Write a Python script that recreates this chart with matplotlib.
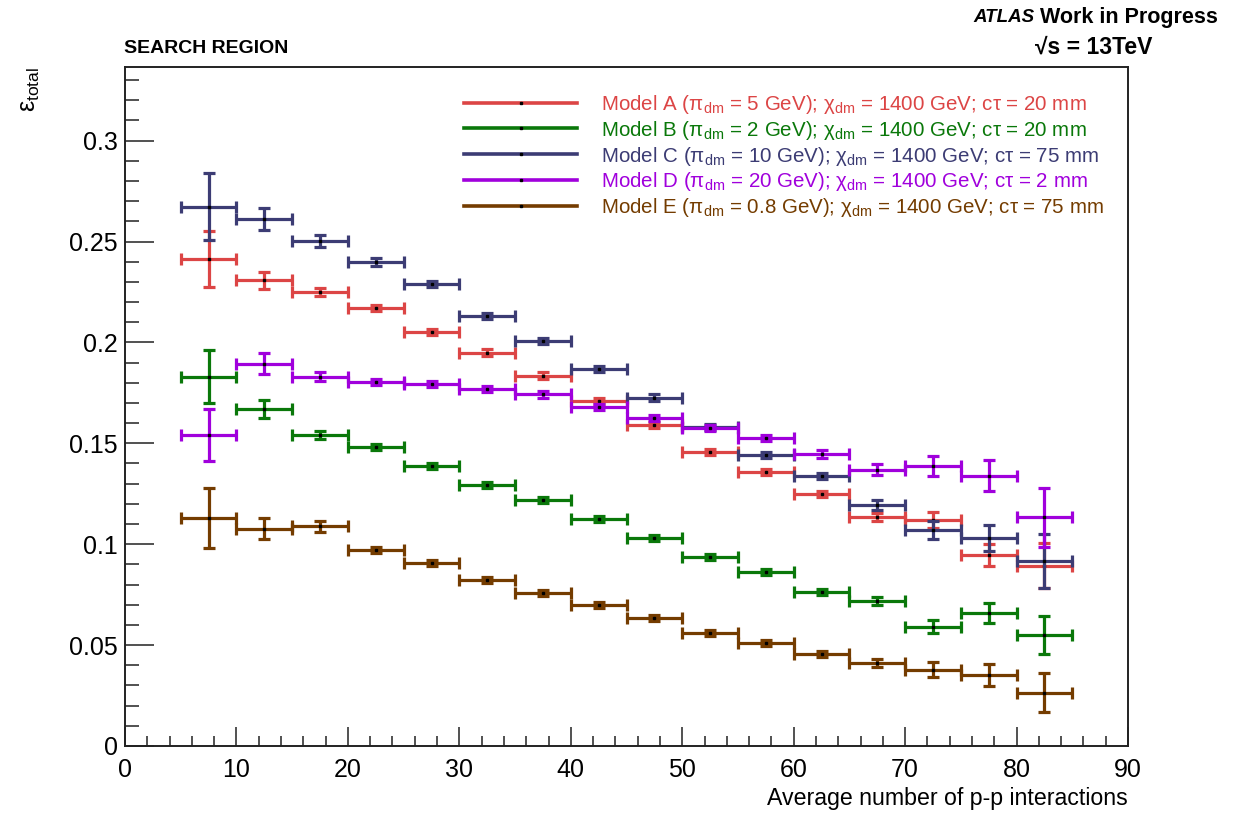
import matplotlib.pyplot as plt
from matplotlib.lines import Line2D
from matplotlib.ticker import MultipleLocator

plt.rcParams['font.family'] = ['Liberation Sans', 'DejaVu Sans']
plt.rcParams['mathtext.fontset'] = 'custom'
plt.rcParams['mathtext.rm'] = 'Liberation Sans'
plt.rcParams['mathtext.it'] = 'Liberation Sans:italic'
plt.rcParams['mathtext.bf'] = 'Liberation Sans:bold'

# bins of average pile-up (width 5)
mu = [7.5, 12.5, 17.5, 22.5, 27.5, 32.5, 37.5, 42.5,
      47.5, 52.5, 57.5, 62.5, 67.5, 72.5, 77.5, 82.5]
half_width = 2.5

eff_a = [0.2413, 0.2309, 0.2250, 0.2170, 0.2050, 0.1950, 0.1836, 0.1712,
         0.1590, 0.1459, 0.1357, 0.1251, 0.1137, 0.1121, 0.0947, 0.0893]
err_a = [0.0140, 0.0042, 0.0020, 0.0015, 0.0015, 0.0015, 0.0015, 0.0015,
         0.0015, 0.0015, 0.0015, 0.0015, 0.0020, 0.0040, 0.0055, 0.0112]

eff_b = [0.1830, 0.1670, 0.1542, 0.1481, 0.1388, 0.1293, 0.1220, 0.1126,
         0.1031, 0.0937, 0.0863, 0.0763, 0.0717, 0.0592, 0.0661, 0.0552]
err_b = [0.0130, 0.0045, 0.0020, 0.0015, 0.0015, 0.0015, 0.0015, 0.0015,
         0.0015, 0.0015, 0.0015, 0.0015, 0.0020, 0.0033, 0.0050, 0.0094]

eff_c = [0.2673, 0.2612, 0.2501, 0.2400, 0.2290, 0.2131, 0.2005, 0.1870,
         0.1727, 0.1583, 0.1440, 0.1340, 0.1192, 0.1071, 0.1030, 0.0917]
err_c = [0.0165, 0.0055, 0.0030, 0.0020, 0.0015, 0.0015, 0.0015, 0.0015,
         0.0015, 0.0015, 0.0015, 0.0015, 0.0025, 0.0044, 0.0063, 0.0135]

eff_d = [0.1542, 0.1894, 0.1831, 0.1803, 0.1793, 0.1769, 0.1742, 0.1680,
         0.1626, 0.1575, 0.1527, 0.1448, 0.1370, 0.1388, 0.1340, 0.1134]
err_d = [0.0128, 0.0053, 0.0020, 0.0015, 0.0015, 0.0015, 0.0015, 0.0015,
         0.0015, 0.0015, 0.0015, 0.0020, 0.0027, 0.0050, 0.0076, 0.0146]

eff_e = [0.1129, 0.1076, 0.1089, 0.0972, 0.0907, 0.0822, 0.0757, 0.0699,
         0.0636, 0.0559, 0.0511, 0.0455, 0.0412, 0.0377, 0.0352, 0.0264]
err_e = [0.0150, 0.0052, 0.0027, 0.0015, 0.0015, 0.0015, 0.0015, 0.0015,
         0.0015, 0.0015, 0.0015, 0.0015, 0.0020, 0.0037, 0.0054, 0.0097]

labels = [
    r'Model A ($\mathrm{\pi}_{\rm dm}$ = 5 GeV); $\mathrm{\chi}_{\rm dm}$ = 1400 GeV; c$\mathrm{\tau}$ = 20 mm',
    r'Model B ($\mathrm{\pi}_{\rm dm}$ = 2 GeV); $\mathrm{\chi}_{\rm dm}$ = 1400 GeV; c$\mathrm{\tau}$ = 20 mm',
    r'Model C ($\mathrm{\pi}_{\rm dm}$ = 10 GeV); $\mathrm{\chi}_{\rm dm}$ = 1400 GeV; c$\mathrm{\tau}$ = 75 mm',
    r'Model D ($\mathrm{\pi}_{\rm dm}$ = 20 GeV); $\mathrm{\chi}_{\rm dm}$ = 1400 GeV; c$\mathrm{\tau}$ = 2 mm',
    r'Model E ($\mathrm{\pi}_{\rm dm}$ = 0.8 GeV); $\mathrm{\chi}_{\rm dm}$ = 1400 GeV; c$\mathrm{\tau}$ = 75 mm',
]
colors = ['#dc4545', '#0a780a', '#3c3c74', '#a000dc', '#743c00']
effs = [eff_a, eff_b, eff_c, eff_d, eff_e]
errs = [err_a, err_b, err_c, err_d, err_e]

fig = plt.figure(figsize=(12.44, 8.15), dpi=100)
ax = fig.add_axes([0.1005, 0.0847, 0.8063, 0.8331])

handles = []
for eff, err, col in zip(effs, errs, colors):
    ax.errorbar(mu, eff, xerr=half_width, yerr=err, fmt='none', ecolor=col,
                elinewidth=2.3, capsize=4, capthick=2.3)
    ax.plot(mu, eff, linestyle='none', marker='s', markersize=1.5,
            color='black')
    handles.append(Line2D([], [], color=col, lw=2.6, marker='s', markersize=1.5,
                          mfc='black', mec='black'))

ax.set_xlim(0, 90)
ax.set_ylim(0, 0.3365)
ax.xaxis.set_major_locator(MultipleLocator(10))
ax.xaxis.set_minor_locator(MultipleLocator(2))
ax.yaxis.set_major_locator(MultipleLocator(0.05))
ax.yaxis.set_minor_locator(MultipleLocator(0.01))
ax.set_yticks([0, 0.05, 0.1, 0.15, 0.2, 0.25, 0.3])
ax.set_yticklabels(['0', '0.05', '0.1', '0.15', '0.2', '0.25', '0.3'])
ax.tick_params(axis='both', which='both', direction='in', top=False, right=False,
               labelsize=18, width=1.1, color='#222222')
ax.tick_params(axis='y', which='major', length=21, pad=5)
ax.tick_params(axis='y', which='minor', length=10)
ax.tick_params(axis='x', which='major', length=14, pad=9)
ax.tick_params(axis='x', which='minor', length=7)
for sp in ax.spines.values():
    sp.set_linewidth(1.4)
    sp.set_color('#222222')

ax.set_xlabel('Average number of p-p interactions', fontsize=16.7, loc='right',
              labelpad=3)

leg = ax.legend(handles, labels, loc='upper left', bbox_to_anchor=(0.338, 0.962),
                frameon=False, fontsize=14.8, handlelength=5.5, handletextpad=1.15,
                labelspacing=0.14, numpoints=1, borderpad=0, borderaxespad=0)
for txt, col in zip(leg.get_texts(), colors):
    txt.set_color(col)

fig.text(0.024, 0.918, r'$\mathrm{\varepsilon}_{\rm total}$', rotation=90,
         fontsize=18, ha='center', va='top')
fig.text(0.1, 0.941, 'SEARCH REGION', fontsize=14, fontweight='bold',
         ha='left', va='center')
fig.text(0.8315, 0.979, 'ATLAS', fontsize=13.5, fontweight='bold', style='italic',
         ha='right', va='center')
fig.text(0.836, 0.979, 'Work in Progress', fontsize=15.5, fontweight='bold',
         ha='left', va='center')
fig.text(0.832, 0.942, '\u221as = 13TeV', fontsize=16.5, fontweight='bold',
         ha='left', va='center')

plt.savefig('out.png', dpi=100)
